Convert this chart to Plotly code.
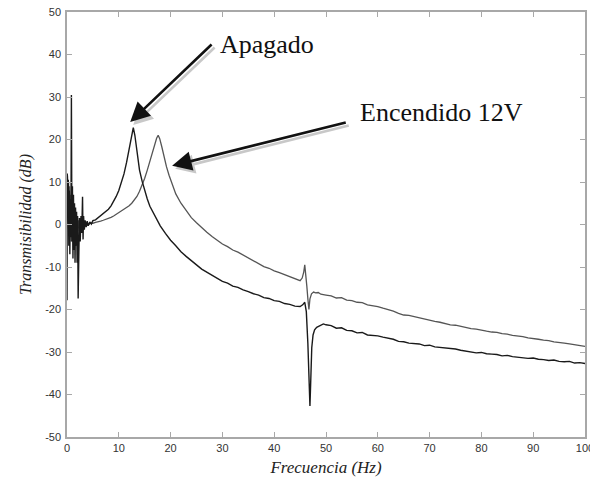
import plotly.graph_objects as go

# Apagado (motor off)
apagado_f = [0, 0.05, 0.15, 0.25, 0.35, 0.45, 0.55, 0.65, 0.75, 0.85, 0.95, 1.05, 1.15, 1.25, 1.35,
             1.45, 1.55, 1.65, 1.75, 1.85, 1.95, 2.05, 2.15, 2.25, 2.4, 2.55, 2.7, 2.85, 3.0, 3.1,
             3.2, 3.35, 3.5, 3.7, 3.9, 4.1, 4.4, 4.7, 5.0, 5.5, 6.0, 6.5, 7.0, 7.5, 8.0, 8.5, 9.0,
             9.5, 10.0, 10.5, 11.0, 11.5, 12.0, 12.4, 12.8, 13.1, 13.5, 14.0, 14.5, 15.0, 15.5,
             16.0, 17, 18, 19, 20, 21, 22, 23, 24, 25, 26, 27, 28, 29, 30, 31, 32, 33, 34, 35, 36,
             37, 38, 39, 40, 41, 42, 43, 44, 45, 45.5, 45.9, 46.2, 46.5, 46.75, 46.9, 47.05, 47.25,
             47.5, 47.8, 48.2, 48.6, 49, 49.5, 50, 51, 52, 53, 54, 55, 56, 57, 58, 59, 60, 61, 62,
             63, 64, 65, 66, 67, 68, 69, 70, 71, 72, 73, 74, 75, 76, 77, 78, 79, 80, 81, 82, 83,
             84, 85, 86, 87, 88, 89, 90, 91, 92, 93, 94, 95, 96, 97, 98, 99, 100]
apagado_db = [-17.8, 12, 4, 10.5, -5, 8, -7, 6, -3, 30.5, -4, 9, -8, 7, -6,
              5, -9, 4, -5, 3, -9, 2, -17.4, -3, 1.5, -4, 2, -2, 6.5, -3.5,
              2, -1.2, 1, -0.6, 0.8, -0.3, 0.6, 0.1, 0.9, 1.1, 1.6, 2.0, 2.5, 3.0, 3.6, 4.4, 5.4,
              6.6, 8.0, 9.8, 11.9, 14.6, 17.6, 20.4, 22.8, 21.0, 17.5, 12.8, 10.2, 7.8, 6.0,
              4.3, 1.8, -0.3, -2.1, -3.7, -5.0, -6.4, -7.5, -8.6, -9.5, -10.5, -11.2, -12.1, -12.6,
              -13.4, -13.8, -14.5, -14.8, -15.4, -15.8, -16.3,
              -16.6, -17.2, -17.4, -17.9, -18.1, -18.6, -18.8, -19.2, -19.3, -18.9, -18.3, -20.5,
              -28, -38, -42.7, -37, -29,
              -26, -24.8, -24.2, -23.9, -23.7, -23.4, -23.6, -23.8, -24.4, -24.3, -24.9, -25.0,
              -25.5, -25.4, -26.0, -26.1, -26.2, -26.5, -26.8,
              -27.0, -27.5, -27.6, -27.9, -28.0, -28.1, -28.5, -28.4, -28.8, -28.9, -29.0, -29.2,
              -29.3, -29.6, -29.8, -29.9, -30.2, -30.1, -30.4, -30.5, -30.6,
              -30.9, -30.8, -31.1, -31.2, -31.3, -31.5, -31.4, -31.7, -31.8, -32.0, -31.9, -32.2,
              -32.3, -32.2, -32.6, -32.5, -32.7]

# Encendido 12V (motor on)
encendido_f = [0, 0.1, 0.2, 0.3, 0.4, 0.5, 0.6, 0.7, 0.8, 0.9, 1.0, 1.1, 1.2, 1.3, 1.4, 1.5, 1.6,
               1.7, 1.8, 1.9, 2.0, 2.2, 2.4, 2.6, 2.8, 3.0, 3.3, 3.6, 4.0, 4.5, 5.0, 5.5, 6.0, 6.5,
               7.0, 7.5, 8.0, 8.5, 9.0, 9.5, 10, 10.5, 11, 11.5, 12, 12.5, 13, 13.5, 14, 14.5, 15,
               15.5, 16, 16.5, 17, 17.3, 17.6, 17.9, 18.3, 18.7, 19.2, 19.7, 20.2, 21, 22, 23, 24,
               25, 26, 27, 28, 29, 30, 31, 32, 33, 34, 35, 36, 37, 38, 39, 40, 41, 42, 43, 44, 44.5,
               45, 45.4, 45.7, 45.9, 46.1, 46.3, 46.5, 46.7, 46.9, 47.2, 47.6, 48, 48.5, 49, 50, 51,
               52, 53, 54, 55, 56, 57, 58, 59, 60, 61, 62, 63, 64, 65, 66, 67, 68, 69, 70, 71, 72,
               73, 74, 75, 76, 77, 78, 79, 80, 81, 82, 83, 84, 85, 86, 87, 88, 89, 90, 91, 92, 93,
               94, 95, 96, 97, 98, 99, 100]
encendido_db = [0.5, 11.5, 7, 10, 1, 9, -2, 7, -4, 8, -3, 6, -6, 4, -3, 3, -5,
                2, -3, 1, -2, 1, -1.5, 1.5, -1.2, 1.2, -0.5, 0.6, -0.2, 0.3, 0.3, 0.5, 0.6, 0.8,
                1.0, 1.2, 1.4, 1.7, 2.0, 2.4, 2.8, 3.1, 3.4, 3.9, 4.4, 5.0, 5.7, 6.6, 7.8, 9.2, 10.9,
                12.8, 15.0, 17.2, 19.3, 20.3, 21.0, 20.2, 18.3, 16.0, 13.6, 11.6, 9.8, 7.2, 5.0, 3.2,
                1.6, 0.4, -0.8, -1.8, -2.8, -3.8, -4.6, -5.2, -6.0, -6.5, -7.2, -7.9, -8.6, -9.1,
                -9.9, -10.3, -10.9, -11.3, -11.8, -12.2, -12.8, -13.0,
                -13.2, -12.6, -11.2, -9.5, -11.5, -14.5, -17.5, -20, -17.5, -16.3, -15.9, -16.1,
                -16.0, -16.4, -16.6, -16.8,
                -17.3, -17.2, -17.8, -17.9, -18.3, -18.4, -18.9, -19.1, -19.3, -19.7, -20.0, -20.4,
                -20.9, -21.3, -21.4, -21.7, -22.0, -22.3, -22.5, -22.8, -23.0,
                -23.3, -23.6, -23.7, -24.0, -24.2, -24.5, -24.6, -24.9, -25.1, -25.3, -25.4, -25.7,
                -25.8, -26.1, -26.2, -26.4, -26.7, -26.8, -27.0, -27.2, -27.3,
                -27.6, -27.7, -27.9, -28.1, -28.3, -28.4, -28.7]

x_ticks = [0, 10, 20, 30, 40, 50, 60, 70, 80, 90, 100]
y_ticks = [-50, -40, -30, -20, -10, 0, 10, 20, 30, 40, 50]

fig = go.Figure()
fig.add_trace(go.Scatter(x=encendido_f, y=encendido_db, mode="lines",
                         line=dict(color="#555555", width=1.3), name="Encendido 12V"))
fig.add_trace(go.Scatter(x=apagado_f, y=apagado_db, mode="lines",
                         line=dict(color="#1a1a1a", width=1.4), name="Apagado"))

serif = "Liberation Serif, Times New Roman, serif"

def arrow(tip_x, tip_y, tail_x, tail_y):
    # shadow
    fig.add_annotation(x=tip_x, y=tip_y, ax=tail_x, ay=tail_y, xref="x", yref="y",
                       axref="x", ayref="y", text="", showarrow=True, arrowhead=2,
                       arrowsize=1.5, arrowwidth=2.6, arrowcolor="#c8c8c8",
                       xshift=3, yshift=-3)
    fig.add_annotation(x=tip_x, y=tip_y, ax=tail_x, ay=tail_y, xref="x", yref="y",
                       axref="x", ayref="y", text="", showarrow=True, arrowhead=2,
                       arrowsize=1.5, arrowwidth=2.6, arrowcolor="#111111")

arrow(12.2, 24.1, 28.2, 42.7)
arrow(20.3, 13.8, 54.1, 24.1)

fig.add_annotation(x=29.2, y=42.4, xref="x", yref="y", text="Apagado", showarrow=False,
                   xanchor="left", yanchor="middle",
                   font=dict(family=serif, size=26, color="#111111"))
fig.add_annotation(x=56.2, y=26.3, xref="x", yref="y", text="Encendido 12V", showarrow=False,
                   xanchor="left", yanchor="middle",
                   font=dict(family=serif, size=26, color="#111111"))

axis_common = dict(showline=True, linecolor="#a8a8a8", linewidth=1.5, mirror="ticks",
                   ticks="inside", ticklen=5, tickcolor="#a8a8a8", tickwidth=1,
                   showgrid=False, zeroline=False, ticklabeloverflow="allow",
                   automargin=False,
                   tickfont=dict(family="Liberation Sans, Arial, sans-serif", size=11,
                                 color="#333333"))

fig.update_xaxes(range=[0, 100], tickvals=x_ticks, ticktext=[str(v) for v in x_ticks],
                 title=dict(text="<i>Frecuencia (Hz)</i>", standoff=8,
                            font=dict(family=serif, size=17, color="#222222")),
                 **axis_common)
fig.update_yaxes(range=[-50, 50], tickvals=y_ticks, ticktext=[str(v) for v in y_ticks],
                 title=dict(text="<i>Transmisibilidad (dB)</i>", standoff=10,
                            font=dict(family=serif, size=16, color="#222222")),
                 ticklabelstandoff=2,
                 **axis_common)

fig.update_layout(width=590, height=479, margin=dict(l=67, r=5, t=12, b=42),
                  plot_bgcolor="white", paper_bgcolor="white", showlegend=False)

fig.write_html("out.html")
